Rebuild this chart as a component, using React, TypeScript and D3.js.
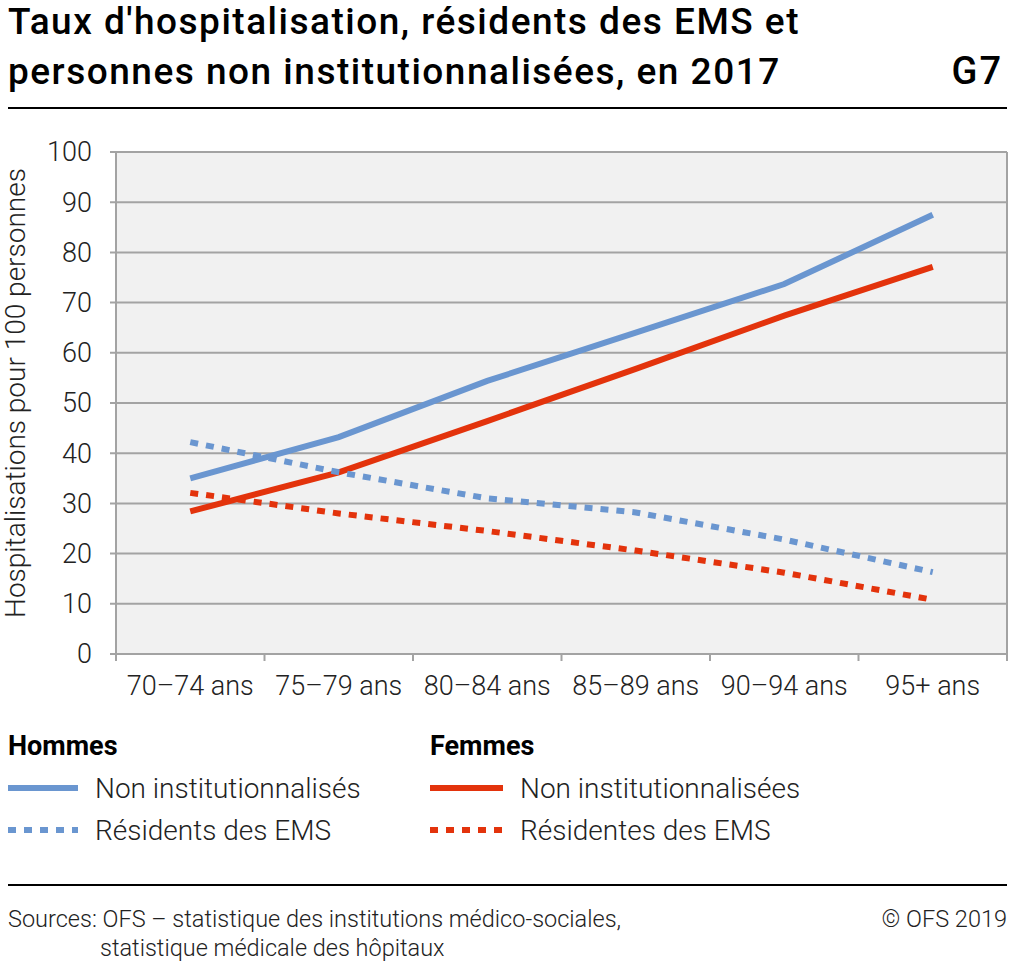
import React from "react";
import * as d3 from "d3";

const categories = ["70–74 ans", "75–79 ans", "80–84 ans", "85–89 ans", "90–94 ans", "95+ ans"];
const hommesNonInst = [35.0, 43.2, 54.4, 64.0, 73.7, 87.5];
const femmesNonInst = [28.4, 36.2, 46.4, 56.8, 67.4, 77.1];
const hommesEMS = [42.2, 36.2, 31.0, 28.2, 22.8, 16.3];
const femmesEMS = [32.1, 28.0, 24.5, 20.6, 16.2, 10.8];
const yTicks = [0, 10, 20, 30, 40, 50, 60, 70, 80, 90, 100];

const BLUE = "#6a96d0";
const RED = "#e3330c";
const GRID = "#a3a3a3";
const FONT = "Roboto, 'Noto Sans', sans-serif";
const DOT = "8 8";

export default function App() {
  const W = 1010, H = 963;
  const left = 116, right = 1007, top = 152, bottom = 654;
  const x = d3.scalePoint<string>().domain(categories).range([left, right]).padding(0.5);
  const band = d3.scaleBand<string>().domain(categories).range([left, right]);
  const y = d3.scaleLinear().domain([0, 100]).range([bottom, top]);
  const line = d3.line<number>().x((_, i) => x(categories[i])!).y((d) => y(d));
  const bounds = [...categories.map((c) => band(c)!), right];

  const series = [
    { data: hommesNonInst, color: BLUE, dash: undefined },
    { data: femmesNonInst, color: RED, dash: undefined },
    { data: hommesEMS, color: BLUE, dash: DOT },
    { data: femmesEMS, color: RED, dash: DOT },
  ];

  return (
    <svg width={W} height={H} style={{ position: "absolute", left: 0, top: 0, background: "#fff" }} fontFamily={FONT}>
      <text x={8} y={34} fontSize={37} fontWeight={500} letterSpacing={1.5} fill="#000">Taux d'hospitalisation, résidents des EMS et</text>
      <text x={8} y={84} fontSize={37} fontWeight={500} letterSpacing={1.5} fill="#000">personnes non institutionnalisées, en 2017</text>
      <text x={1003} y={84} fontSize={38} fontWeight={500} letterSpacing={2} textAnchor="end" fill="#000">G7</text>
      <line x1={8} x2={1007} y1={108} y2={108} stroke="#000" strokeWidth={2} />

      <rect x={left} y={top} width={right - left} height={bottom - top} fill="#f1f1f1" />
      {yTicks.map((t) => (
        <g key={t}>
          <line x1={left - 6} x2={right} y1={y(t)} y2={y(t)} stroke={GRID} strokeWidth={2} />
          <text x={92} y={y(t)} dy="0.35em" textAnchor="end" fontSize={27} fontWeight={300} fill="#222">{t}</text>
        </g>
      ))}
      <line x1={left} x2={left} y1={top} y2={bottom} stroke={GRID} strokeWidth={2} />
      <line x1={right} x2={right} y1={top} y2={bottom} stroke={GRID} strokeWidth={2} />
      {bounds.map((b, i) => (
        <line key={i} x1={b} x2={b} y1={bottom} y2={bottom + 7} stroke={GRID} strokeWidth={2} />
      ))}
      {categories.map((c) => (
        <text key={c} x={x(c)} y={695} textAnchor="middle" fontSize={27} fontWeight={300} fill="#222">{c}</text>
      ))}
      <text transform={`translate(25,393) rotate(-90)`} textAnchor="middle" fontSize={28} fontWeight={300} fill="#222">Hospitalisations pour 100 personnes</text>

      {series.map((s, i) => (
        <path key={i} d={line(s.data)!} fill="none" stroke={s.color} strokeWidth={6} strokeDasharray={s.dash} />
      ))}

      <text x={8} y={755} fontSize={27} fontWeight={700} fill="#000">Hommes</text>
      <text x={430} y={755} fontSize={27} fontWeight={700} fill="#000">Femmes</text>
      <line x1={8} x2={78} y1={788} y2={788} stroke={BLUE} strokeWidth={6} />
      <text x={95} y={798} fontSize={28} fontWeight={300} fill="#222">Non institutionnalisés</text>
      <line x1={8} x2={78} y1={830} y2={830} stroke={BLUE} strokeWidth={6} strokeDasharray={DOT} />
      <text x={95} y={840} fontSize={28} fontWeight={300} fill="#222">Résidents des EMS</text>
      <line x1={430} x2={503} y1={788} y2={788} stroke={RED} strokeWidth={6} />
      <text x={520} y={798} fontSize={28} fontWeight={300} fill="#222">Non institutionnalisées</text>
      <line x1={430} x2={503} y1={830} y2={830} stroke={RED} strokeWidth={6} strokeDasharray={DOT} />
      <text x={520} y={840} fontSize={28} fontWeight={300} fill="#222">Résidentes des EMS</text>

      <line x1={8} x2={1007} y1={885} y2={885} stroke="#000" strokeWidth={2} />
      <text x={8} y={927} fontSize={23.5} fontWeight={300} fill="#222">Sources: OFS – statistique des institutions médico-sociales,</text>
      <text x={100} y={956} fontSize={23.5} fontWeight={300} fill="#222">statistique médicale des hôpitaux</text>
      <text x={1007} y={927} fontSize={23.5} fontWeight={300} textAnchor="end" fill="#222">© OFS 2019</text>
    </svg>
  );
}
